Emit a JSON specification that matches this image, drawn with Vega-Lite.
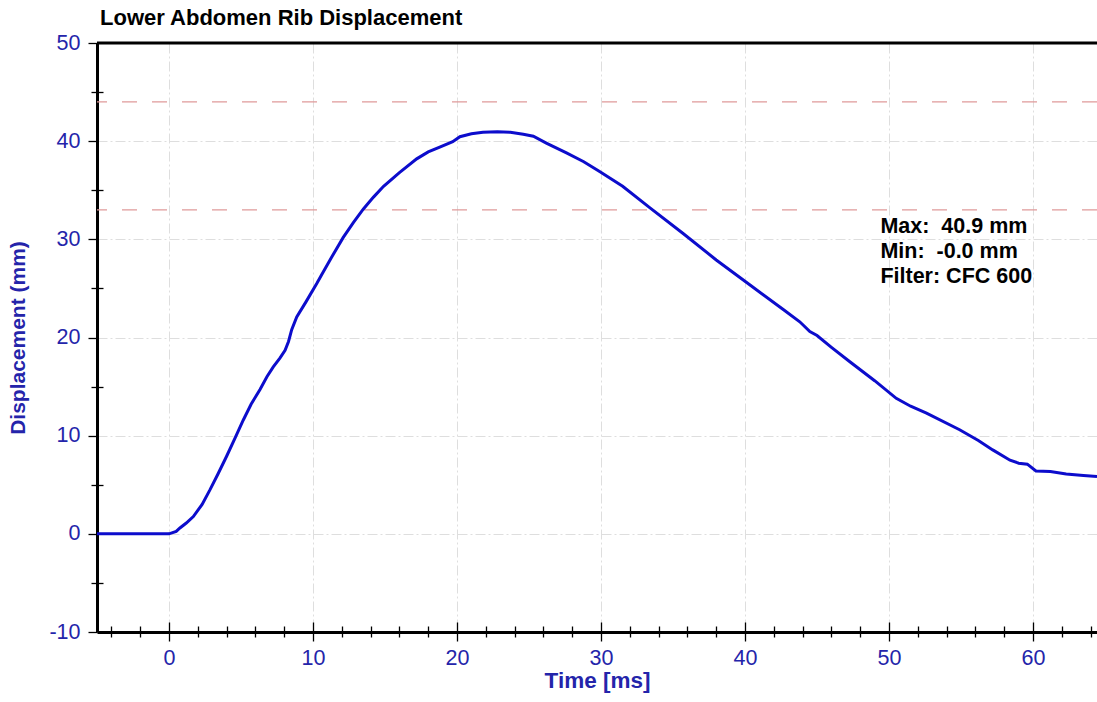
{
  "$schema": "https://vega.github.io/schema/vega-lite/v6.json",
  "width": 1000,
  "height": 589,
  "autosize": {"type": "none"},
  "padding": {"left": 97, "top": 43, "right": 0, "bottom": 70},
  "background": "white",
  "config": {"font": "Liberation Sans", "view": {"stroke": null}},
  "title": {"text": "Lower Abdomen Rib Displacement", "anchor": "start", "frame": "group", "offset": 2, "fontSize": 22, "fontWeight": "bold", "color": "black", "font": "Liberation Sans", "dx": 3},
  "datasets": {
    "curve": [
      {"t": -5, "d": 0}, {"t": 0, "d": 0}, {"t": 0.5, "d": 0.25}, {"t": 0.76, "d": 0.6}, {"t": 1.2, "d": 1.1},
      {"t": 1.69, "d": 1.76}, {"t": 2.3, "d": 3.0}, {"t": 2.85, "d": 4.5}, {"t": 3.4, "d": 6.1}, {"t": 4.0, "d": 7.9},
      {"t": 4.6, "d": 9.8}, {"t": 5.16, "d": 11.6}, {"t": 5.7, "d": 13.2}, {"t": 6.32, "d": 14.7}, {"t": 6.8, "d": 16.0},
      {"t": 7.24, "d": 17.0}, {"t": 7.7, "d": 17.9}, {"t": 8.06, "d": 18.7}, {"t": 8.3, "d": 19.6}, {"t": 8.52, "d": 20.8},
      {"t": 8.87, "d": 22.1}, {"t": 9.5, "d": 23.6}, {"t": 10.26, "d": 25.5}, {"t": 10.6, "d": 26.4}, {"t": 11.3, "d": 28.2},
      {"t": 12.1, "d": 30.2}, {"t": 12.8, "d": 31.7}, {"t": 13.5, "d": 33.1}, {"t": 14.2, "d": 34.3}, {"t": 14.9, "d": 35.4},
      {"t": 16.0, "d": 36.8}, {"t": 17.2, "d": 38.2}, {"t": 18.0, "d": 38.9}, {"t": 18.8, "d": 39.4}, {"t": 19.7, "d": 39.95},
      {"t": 20.2, "d": 40.45}, {"t": 21.0, "d": 40.75}, {"t": 21.8, "d": 40.9}, {"t": 22.8, "d": 40.95}, {"t": 23.7, "d": 40.9},
      {"t": 24.6, "d": 40.7}, {"t": 25.3, "d": 40.5},
      {"t": 26.2, "d": 39.8}, {"t": 27.6, "d": 38.8}, {"t": 28.8, "d": 37.9}, {"t": 29.9, "d": 36.9}, {"t": 31.5, "d": 35.4},
      {"t": 33.4, "d": 33.2}, {"t": 35.7, "d": 30.6}, {"t": 38.0, "d": 27.9}, {"t": 40.3, "d": 25.4}, {"t": 42.7, "d": 22.8},
      {"t": 43.8, "d": 21.6}, {"t": 44.5, "d": 20.6}, {"t": 45.0, "d": 20.2}, {"t": 46.0, "d": 19.0}, {"t": 47.3, "d": 17.5},
      {"t": 49.0, "d": 15.6}, {"t": 50.5, "d": 13.8}, {"t": 51.5, "d": 13.0}, {"t": 52.6, "d": 12.3}, {"t": 54.9, "d": 10.6},
      {"t": 56.2, "d": 9.5}, {"t": 57.2, "d": 8.55}, {"t": 58.4, "d": 7.5}, {"t": 59.0, "d": 7.2}, {"t": 59.6, "d": 7.1},
      {"t": 60.2, "d": 6.4}, {"t": 61.2, "d": 6.35}, {"t": 62.3, "d": 6.1}, {"t": 63.5, "d": 5.95}, {"t": 64.44, "d": 5.85}
    ],
    "limits": [{"limit": 33}, {"limit": 44}]
  },
  "layer": [
    {
      "data": {"name": "limits"},
      "mark": {"type": "rule", "color": "#e09a9a", "strokeWidth": 1.3, "strokeDash": [15, 15]},
      "encoding": {
        "y": {"field": "limit", "type": "quantitative", "scale": {"domain": [-10, 50], "nice": false, "zero": false}, "axis": null}
      }
    },
    {
      "data": {"name": "curve"},
      "mark": {"type": "line", "color": "#0c0ccc", "strokeWidth": 3, "clip": true},
      "encoding": {
        "x": {
          "field": "t", "type": "quantitative",
          "scale": {"domain": [-5, 64.44], "nice": false, "zero": false},
          "axis": {
            "orient": "bottom",
            "values": [-4, -2, 0, 2, 4, 6, 8, 10, 12, 14, 16, 18, 20, 22, 24, 26, 28, 30, 32, 34, 36, 38, 40, 42, 44, 46, 48, 50, 52, 54, 56, 58, 60, 62, 64],
            "labelExpr": "datum.value % 10 === 0 ? '' + datum.value : ''",
            "labelOverlap": false, "labelFlush": false,
            "tickSize": {"condition": {"test": "datum.value % 10 === 0", "value": 9}, "value": 5},
            "tickColor": "black", "tickWidth": 1.3,
            "domainColor": "black", "domainWidth": 3,
            "grid": true, "gridColor": "#dedede", "gridDash": [10, 3, 2, 3], "gridWidth": 1,
            "gridOpacity": {"condition": {"test": "datum.value % 10 === 0", "value": 1}, "value": 0},
            "labelFontSize": 21.5, "labelColor": "#2424aa", "labelPadding": 6, "labelFont": "Liberation Sans",
            "title": "Time [ms]", "titleFontSize": 22.5, "titleFontWeight": "bold", "titleColor": "#2424aa", "titlePadding": 1, "titleFont": "Liberation Sans"
          }
        },
        "y": {
          "field": "d", "type": "quantitative",
          "scale": {"domain": [-10, 50], "nice": false, "zero": false},
          "axis": {
            "orient": "left",
            "values": [-10, -5, 0, 5, 10, 15, 20, 25, 30, 35, 40, 45, 50],
            "labelExpr": "datum.value % 10 === 0 ? '' + datum.value : ''",
            "labelOverlap": false, "labelFlush": false,
            "tickSize": {"condition": {"test": "datum.value % 10 === 0", "value": 9}, "value": 6},
            "tickColor": "black", "tickWidth": 1.3,
            "domainColor": "black", "domainWidth": 3,
            "grid": true, "gridColor": "#dedede", "gridDash": [10, 3, 2, 3], "gridWidth": 1,
            "gridOpacity": {"condition": {"test": "datum.value % 10 === 0", "value": 1}, "value": 0},
            "labelFontSize": 21.5, "labelColor": "#2424aa", "labelPadding": 8, "labelFont": "Liberation Sans",
            "title": "Displacement (mm)", "titleFontSize": 21, "titleFontWeight": "bold", "titleColor": "#2424aa", "titleFont": "Liberation Sans",
            "titleX": -79, "titleBaseline": "middle"
          }
        }
      }
    },
    {
      "data": {"values": [{}]},
      "mark": {"type": "rule", "color": "black", "strokeWidth": 3},
      "encoding": {
        "y": {"datum": 50, "type": "quantitative", "scale": {"domain": [-10, 50], "nice": false, "zero": false}, "axis": null}
      }
    },
    {
      "data": {"values": [{}]},
      "mark": {"type": "text", "align": "left", "baseline": "top", "fontSize": 21.5, "fontWeight": "bold", "lineHeight": 25, "color": "black", "font": "Liberation Sans",
        "text": ["Max:\u00a0 40.9 mm", "Min:\u00a0 -0.0 mm", "Filter: CFC 600"]},
      "encoding": {
        "x": {
          "datum": 49.4, "type": "quantitative",
          "scale": {"domain": [-5, 64.44], "nice": false, "zero": false},
          "axis": {
            "orient": "bottom",
            "values": [-4, -2, 0, 2, 4, 6, 8, 10, 12, 14, 16, 18, 20, 22, 24, 26, 28, 30, 32, 34, 36, 38, 40, 42, 44, 46, 48, 50, 52, 54, 56, 58, 60, 62, 64],
            "labels": false, "domain": false, "grid": false, "title": null,
            "tickColor": "black", "tickWidth": 1.3,
            "tickSize": {"condition": {"test": "datum.value % 10 === 0", "value": -10}, "value": -6}
          }
        },
        "y": {
          "datum": 32.4, "type": "quantitative",
          "scale": {"domain": [-10, 50], "nice": false, "zero": false},
          "axis": {
            "orient": "left",
            "values": [-5, 5, 15, 25, 35, 45],
            "labels": false, "domain": false, "grid": false, "title": null,
            "tickColor": "black", "tickWidth": 1.3, "tickSize": -6
          }
        }
      }
    }
  ],
  "resolve": {"scale": {"x": "independent", "y": "independent"}, "axis": {"x": "independent", "y": "independent"}}
}
